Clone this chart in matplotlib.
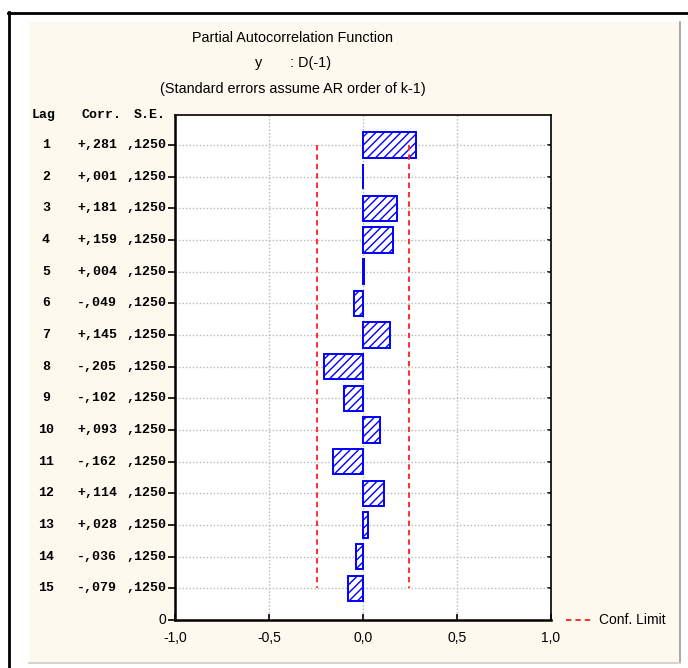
import matplotlib
matplotlib.use("Agg")
import matplotlib.pyplot as plt
from matplotlib.transforms import blended_transform_factory
from matplotlib.lines import Line2D
from matplotlib.patches import Rectangle

# PACF results, lags 1..15
lags = list(range(1, 16))
corr = [0.281, 0.001, 0.181, 0.159, 0.004, -0.049, 0.145, -0.205,
        -0.102, 0.093, -0.162, 0.114, 0.028, -0.036, -0.079]
std_err = [0.125] * 15
conf_z = 1.96
x_ticks = [-1.0, -0.5, 0.0, 0.5, 1.0]

cream = "#FDF9EE"
mono = "Liberation Mono"
sans = "Liberation Sans"

fig = plt.figure(figsize=(6.88, 6.68), dpi=100)
fig.patch.set_facecolor("white")
W, H = 688.0, 668.0

def fx(px):
    return px / W

def fy(py):
    return 1 - py / H

# window frame and panel background
fig.add_artist(Rectangle((fx(29), fy(662)), fx(680) - fx(29), fy(22) - fy(662),
                         transform=fig.transFigure, facecolor=cream,
                         edgecolor="none", zorder=-5))
fig.add_artist(Line2D([fx(680), fx(680)], [fy(22), fy(662)], color="#9a9a9a", lw=1.2))
fig.add_artist(Line2D([fx(29), fx(680)], [fy(663), fy(663)], color="#d8d4c8", lw=1.5))
fig.add_artist(Line2D([fx(8), fx(688)], [fy(12.5), fy(12.5)], color="black", lw=2))
fig.add_artist(Line2D([fx(8.5), fx(8.5)], [fy(12), fy(668)], color="black", lw=2))

ax = fig.add_axes([fx(175), fy(620), fx(551) - fx(175), fy(115) - fy(620)])
ax.set_facecolor("white")

ax.barh(lags, corr, height=0.8, left=0, color="white", edgecolor="#0000FF",
        hatch="////", linewidth=1.4, zorder=3)

conf = [conf_z * s for s in std_err]
ax.plot(conf, lags, color="#FF2020", lw=1.3, ls=(0, (3, 2.2)), zorder=4)
ax.plot([-c for c in conf], lags, color="#FF2020", lw=1.3, ls=(0, (3, 2.2)), zorder=4)

ax.set_xlim(-1, 1)
ax.set_ylim(16, 0.05)
ax.set_xticks(x_ticks)
ax.set_xticklabels([f"{v:.1f}".replace(".", ",") for v in x_ticks],
                   fontsize=10, family=sans)
ax.set_yticks(lags + [16])
ax.set_yticklabels([])
ax.grid(True, color="#b8b8b8", ls=(0, (1, 1.5)), lw=1)
ax.set_axisbelow(True)
ax.tick_params(axis="x", direction="in", length=4, width=1.2, pad=8)
ax.tick_params(axis="y", direction="out", length=5, width=1.2, left=True, right=False)
sec = ax.secondary_yaxis("right")
sec.set_yticks(lags)
sec.set_yticklabels([])
sec.tick_params(direction="in", length=3, width=1.2)
sec.spines["right"].set_visible(False)

for side in ["left", "bottom"]:
    ax.spines[side].set_linewidth(1.8)
for side in ["top", "right"]:
    ax.spines[side].set_linewidth(1.2)

# table columns to the left of the axis
tr = blended_transform_factory(fig.transFigure, ax.transData)
txt = dict(family=mono, fontsize=9.5, fontweight="bold", va="center")
ax.text(fx(44), 0.05, "Lag", transform=tr, ha="center", **txt)
ax.text(fx(122), 0.05, "Corr.", transform=tr, ha="right", **txt)
ax.text(fx(166), 0.05, "S.E.", transform=tr, ha="right", **txt)
for lag, c, s in zip(lags, corr, std_err):
    sign = "+" if c >= 0 else "-"
    ax.text(fx(46), lag, str(lag), transform=tr, ha="center", **txt)
    ax.text(fx(117), lag, sign + f"{abs(c):.3f}"[1:].replace(".", ","),
            transform=tr, ha="right", **txt)
    ax.text(fx(166), lag, f"{s:.4f}"[1:].replace(".", ","),
            transform=tr, ha="right", **txt)
ax.text(fx(166), 16, "0", transform=tr, ha="right", family=sans, fontsize=10, va="center")

# titles
title_kw = dict(ha="center", va="center", family=sans, fontsize=10.4)
fig.text(fx(293), fy(38), "Partial Autocorrelation Function", **title_kw)
fig.text(fx(293), fy(63), "y       : D(-1)", **title_kw)
fig.text(fx(293), fy(89), "(Standard errors assume AR order of k-1)", **title_kw)

# legend entry
fig.add_artist(Line2D([fx(566), fx(592)], [fy(620), fy(620)], color="#FF2020",
                      lw=1.3, ls=(0, (3, 2.2))))
fig.text(fx(599), fy(620), "Conf. Limit", ha="left", va="center",
         family=sans, fontsize=10)

fig.savefig("out.png", dpi=100, facecolor=fig.get_facecolor())
